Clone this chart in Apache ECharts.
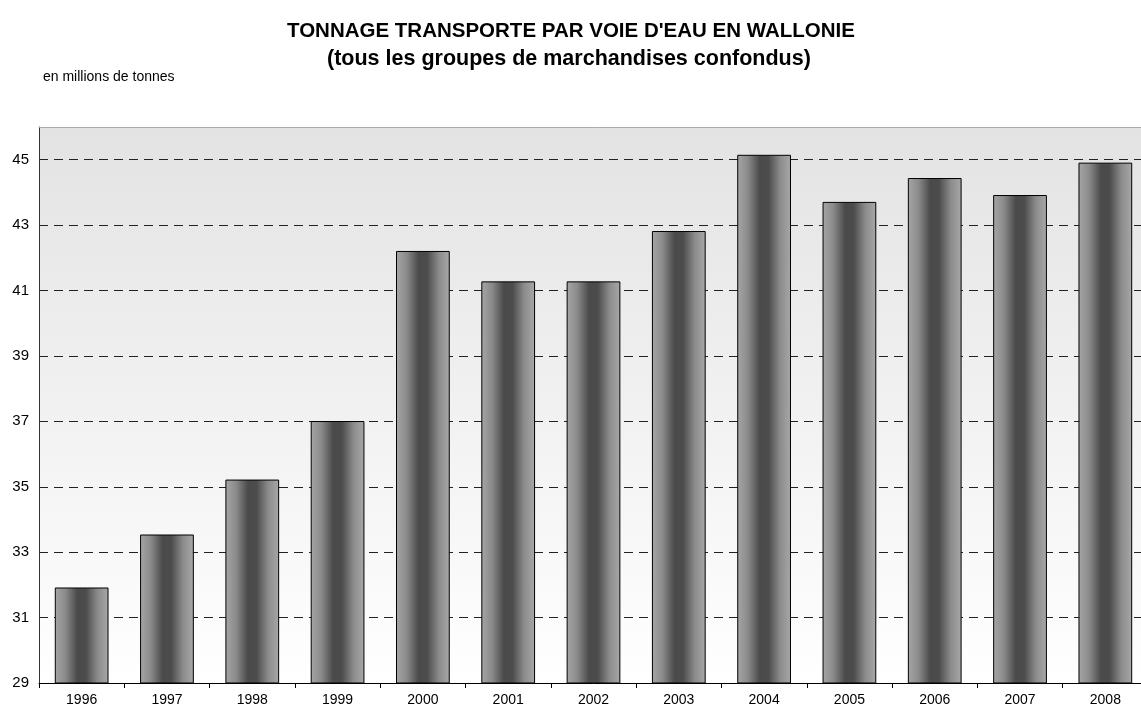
<!DOCTYPE html>
<html>
<head>
<meta charset="utf-8">
<script src="https://cdn.jsdelivr.net/npm/echarts@6/dist/echarts.min.js"></script>
<style>
html,body{margin:0;padding:0;background:#fff;overflow:hidden;width:1141px;height:716px;}
#c{width:1148px;height:716px;}
</style>
</head>
<body>
<div id="c"></div>
<script>
const years = ['1996','1997','1998','1999','2000','2001','2002','2003','2004','2005','2006','2007','2008'];
const tonnage = [31.92, 33.54, 35.22, 37.01, 42.21, 41.28, 41.28, 42.82, 45.15, 43.71, 44.44, 43.92, 44.91];
const yTicks = [29, 31, 33, 35, 37, 39, 41, 43, 45];
const titleText = "TONNAGE TRANSPORTE PAR VOIE D'EAU EN WALLONIE";
const subtitleText = "(tous les groupes de marchandises confondus)";
const unitText = "en millions de tonnes";

const FONT = "'Liberation Sans', Arial, sans-serif";
const chart = echarts.init(document.getElementById('c'), null, {renderer:'canvas'});
chart.setOption({
  animation:false,
  backgroundColor:'#ffffff',
  title:[
    {text:titleText, left:282, top:16, textStyle:{fontFamily:FONT, fontWeight:'bold', fontSize:20.5, color:'#000'}},
    {text:subtitleText, left:322, top:43, textStyle:{fontFamily:FONT, fontWeight:'bold', fontSize:21.5, color:'#000'}},
    {text:unitText, left:38, top:65, textStyle:{fontFamily:FONT, fontWeight:'normal', fontSize:14, color:'#000'}}
  ],
  grid:{left:39, right:0, top:127, bottom:33, show:true, borderWidth:0,
    backgroundColor:{type:'linear', x:0, y:0, x2:0, y2:1, colorStops:[{offset:0,color:'#e3e3e3'},{offset:1,color:'#ffffff'}]}},
  xAxis:[{type:'category', data:years,
    axisLine:{show:true, lineStyle:{color:'#000', width:1}},
    axisTick:{show:true, alignWithLabel:false, length:5, lineStyle:{color:'#000'}},
    axisLabel:{fontFamily:FONT, fontSize:14, color:'#000', margin:10}
  },{type:'category', data:years, position:'top',
    axisLine:{show:true, lineStyle:{color:'#aaaaaa', width:1}},
    axisTick:{show:false}, axisLabel:{show:false}, splitLine:{show:false}
  }],
  yAxis:{type:'value', min:29, max:46, interval:2,
    axisLine:{show:true, lineStyle:{color:'#333', width:1}},
    axisTick:{show:false},
    axisLabel:{fontFamily:FONT, fontSize:15, color:'#000', margin:10,
      formatter:function(v){ return yTicks.indexOf(v) >= 0 ? String(v) : ''; }},
    splitLine:{show:true, showMaxLine:false, lineStyle:{color:'#222', type:[9,6], width:1}}
  },
  series:[{
    type:'bar', data:tonnage, barWidth:'63%', xAxisIndex:0,
    itemStyle:{borderColor:'#000', borderWidth:1,
      color:{type:'linear', x:0, y:0, x2:1, y2:0, colorStops:[
        {offset:0,color:'#a6a6a6'},{offset:0.2,color:'#8a8a8a'},{offset:0.42,color:'#4a4a4a'},{offset:0.58,color:'#4c4c4c'},{offset:0.8,color:'#8c8c8c'},{offset:1,color:'#a8a8a8'}]}
    }
  }]
});
</script>
</body>
</html>
